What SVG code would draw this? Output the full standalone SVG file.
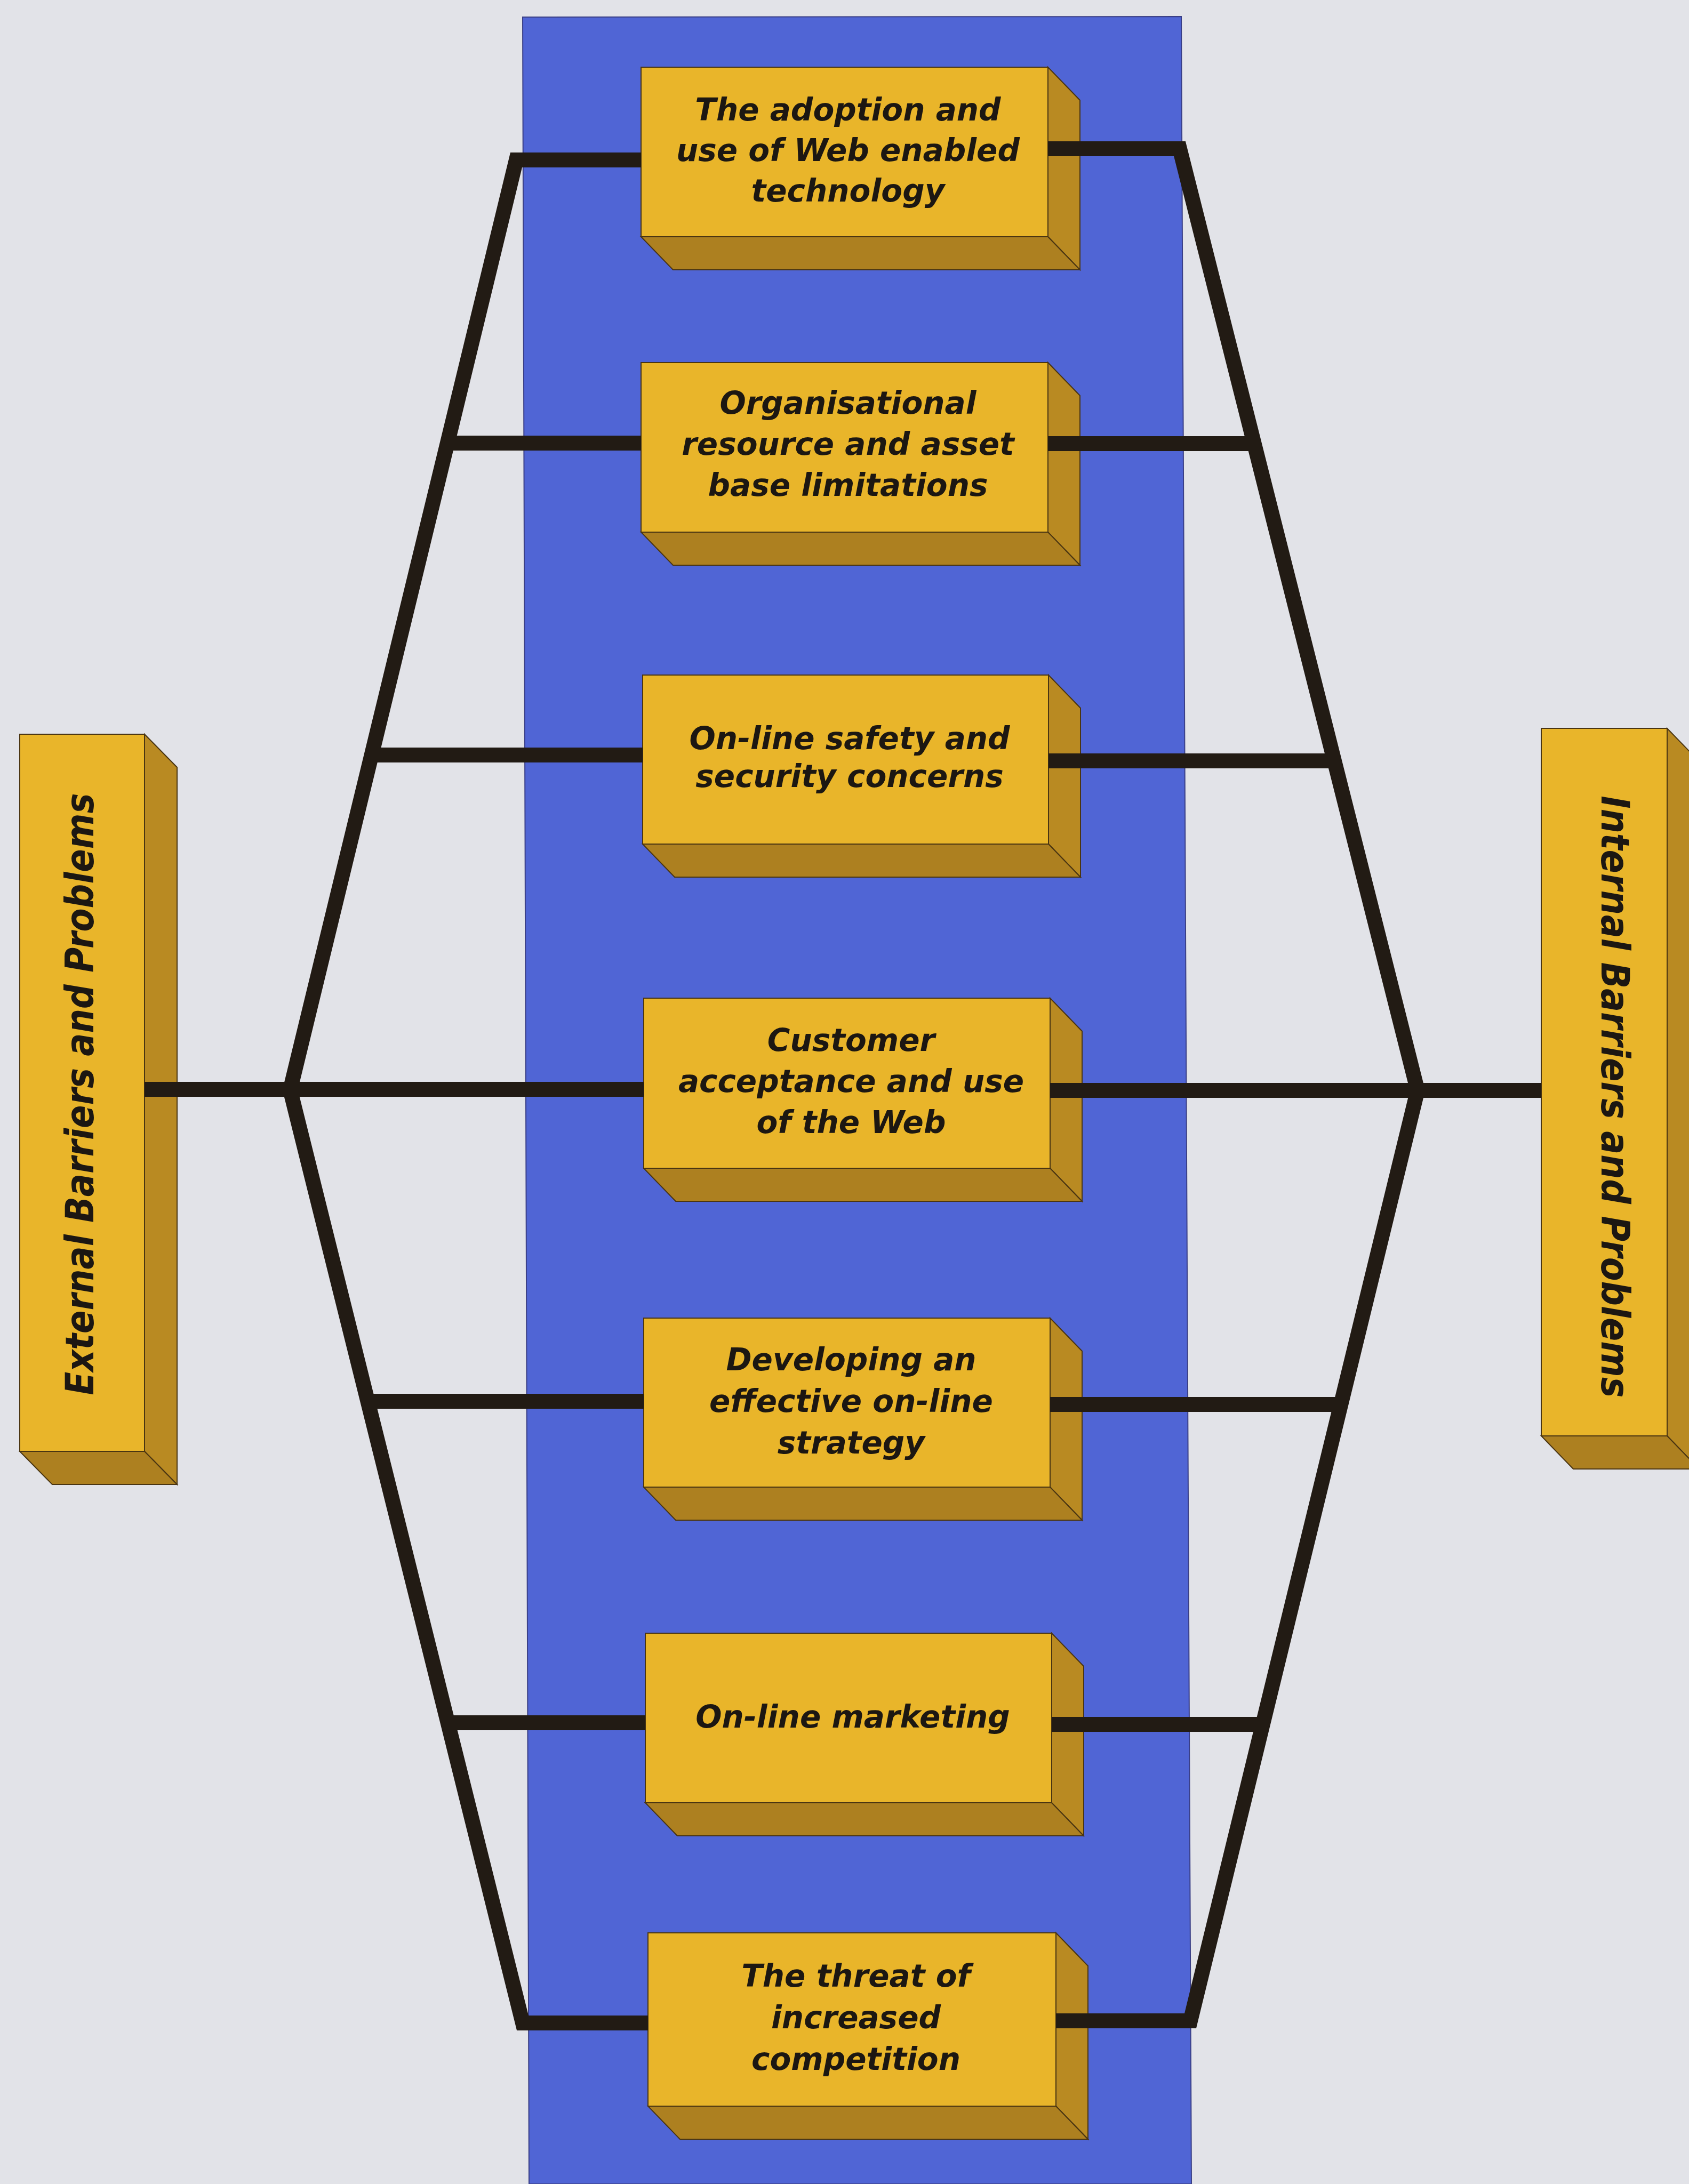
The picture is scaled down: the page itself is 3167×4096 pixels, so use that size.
<svg xmlns="http://www.w3.org/2000/svg" width="3167" height="4096" viewBox="0 0 3167 4096">
  <style>
    .front { fill: #e9b52a; stroke: #4a3512; stroke-width: 2; }
    .side { fill: #b98a22; stroke: #4a3512; stroke-width: 2; }
    .bottom { fill: #ad8020; stroke: #4a3512; stroke-width: 2; }
    .lbl { font-family: "DejaVu Sans", Verdana, sans-serif; font-weight: bold; font-style: italic; font-size: 58px; fill: #1c1712; text-anchor: middle; }
    .vlbl { font-family: "DejaVu Sans", Verdana, sans-serif; font-weight: bold; font-style: italic; font-size: 73px; fill: #1c1712; text-anchor: middle; }
    .wire { fill: none; stroke: #221b14; stroke-width: 28; stroke-linejoin: miter; stroke-linecap: butt; }
  </style>

  <!-- page -->
  <rect x="0" y="0" width="3167" height="4096" fill="#e2e3e8"/>
  <!-- central band -->
  <polygon points="980,32 2215,31 2234,4096 992,4096" fill="#5065d5" stroke="#3a3f86" stroke-width="2"/>

  <!-- left side node -->
  <g id="external">
    <polygon class="side" points="271,1377 332,1439 332,2784 271,2722"/>
    <polygon class="bottom" points="37,2722 271,2722 332,2784 98,2784"/>
    <rect class="front" x="37" y="1377" width="234" height="1345"/>
    <text class="vlbl" transform="translate(175,2052) rotate(-90)" textLength="1129" lengthAdjust="spacingAndGlyphs">External Barriers and Problems</text>
  </g>

  <!-- right side node -->
  <g id="internal">
    <polygon class="side" points="3126,1366 3186,1428 3186,2755 3126,2693"/>
    <polygon class="bottom" points="2890,2693 3126,2693 3186,2755 2950,2755"/>
    <rect class="front" x="2890" y="1366" width="236" height="1327"/>
    <text class="vlbl" transform="translate(3003,2057) rotate(90)" textLength="1129" lengthAdjust="spacingAndGlyphs">Internal Barriers and Problems</text>
  </g>

  <!-- centre column of issues -->
  <g id="issue1">
    <polygon class="side" points="1965,126 2025,188 2025,506 1965,444"/>
    <polygon class="bottom" points="1202,444 1965,444 2025,506 1262,506"/>
    <rect class="front" x="1202" y="126" width="763" height="318"/>
    <text class="lbl"><tspan x="1590" y="226">The adoption and</tspan><tspan x="1590" y="302">use of Web enabled</tspan><tspan x="1590" y="378">technology</tspan></text>
  </g>

  <g id="issue2">
    <polygon class="side" points="1965,680 2025,742 2025,1060 1965,998"/>
    <polygon class="bottom" points="1202,998 1965,998 2025,1060 1262,1060"/>
    <rect class="front" x="1202" y="680" width="763" height="318"/>
    <text class="lbl"><tspan x="1590" y="776">Organisational</tspan><tspan x="1590" y="853">resource and asset</tspan><tspan x="1590" y="930">base limitations</tspan></text>
  </g>

  <g id="issue3">
    <polygon class="side" points="1966,1266 2026,1328 2026,1645 1966,1583"/>
    <polygon class="bottom" points="1205,1583 1966,1583 2026,1645 1265,1645"/>
    <rect class="front" x="1205" y="1266" width="761" height="317"/>
    <text class="lbl"><tspan x="1593" y="1405">On-line safety and</tspan><tspan x="1593" y="1476">security concerns</tspan></text>
  </g>

  <g id="issue4">
    <polygon class="side" points="1969,1872 2029,1934 2029,2253 1969,2191"/>
    <polygon class="bottom" points="1207,2191 1969,2191 2029,2253 1267,2253"/>
    <rect class="front" x="1207" y="1872" width="762" height="319"/>
    <text class="lbl"><tspan x="1596" y="1971">Customer</tspan><tspan x="1596" y="2048">acceptance and use</tspan><tspan x="1596" y="2125">of the Web</tspan></text>
  </g>

  <g id="issue5">
    <polygon class="side" points="1969,2472 2029,2534 2029,2851 1969,2789"/>
    <polygon class="bottom" points="1207,2789 1969,2789 2029,2851 1267,2851"/>
    <rect class="front" x="1207" y="2472" width="762" height="317"/>
    <text class="lbl"><tspan x="1596" y="2570">Developing an</tspan><tspan x="1596" y="2648">effective on-line</tspan><tspan x="1596" y="2726">strategy</tspan></text>
  </g>

  <g id="issue6">
    <polygon class="side" points="1972,3063 2032,3125 2032,3443 1972,3381"/>
    <polygon class="bottom" points="1210,3381 1972,3381 2032,3443 1270,3443"/>
    <rect class="front" x="1210" y="3063" width="762" height="318"/>
    <text class="lbl"><tspan x="1599" y="3240">On-line marketing</tspan></text>
  </g>

  <g id="issue7">
    <polygon class="side" points="1980,3625 2040,3687 2040,4012 1980,3950"/>
    <polygon class="bottom" points="1215,3950 1980,3950 2040,4012 1275,4012"/>
    <rect class="front" x="1215" y="3625" width="765" height="325"/>
    <text class="lbl"><tspan x="1605" y="3726">The threat of</tspan><tspan x="1605" y="3804">increased</tspan><tspan x="1605" y="3882">competition</tspan></text>
  </g>

  <!-- connectors: two hexagonal frames joining the side nodes to each issue -->
  <g id="connectors" class="wire">
    <!-- left frame -->
    <polyline points="1202,300 968,300 544,2044 980,3794 1215,3794"/>
    <line x1="839" y1="831" x2="1202" y2="831"/>
    <line x1="697" y1="1416" x2="1205" y2="1416"/>
    <line x1="271" y1="2043" x2="1207" y2="2043"/>
    <line x1="689" y1="2628" x2="1207" y2="2628"/>
    <line x1="840" y1="3231" x2="1210" y2="3231"/>
    <!-- right frame -->
    <polyline points="1965,279 2212,279 2658,2045 2232,3790 1980,3790"/>
    <line x1="1965" y1="832" x2="2352" y2="832"/>
    <line x1="1966" y1="1427" x2="2502" y2="1427"/>
    <line x1="1969" y1="2045" x2="2890" y2="2045"/>
    <line x1="1969" y1="2634" x2="2514" y2="2634"/>
    <line x1="1972" y1="3234" x2="2368" y2="3234"/>
  </g>
</svg>
